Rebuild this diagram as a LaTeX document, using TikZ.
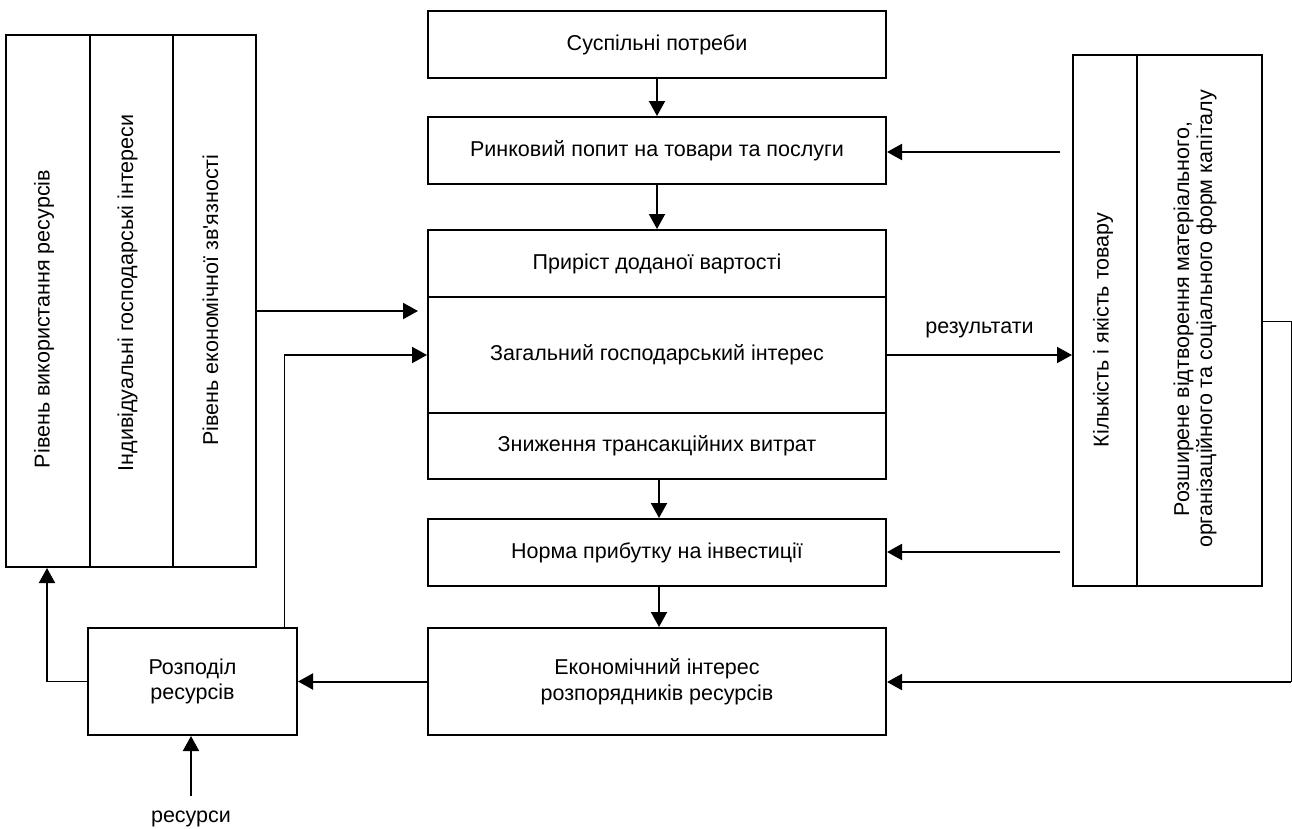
\documentclass[tikz,border=0pt]{standalone}
\usepackage{fontspec}
\setmainfont{Liberation Sans}[Ligatures=TeXOff]
\usetikzlibrary{arrows.meta}
\newcommand\figfs{\fontsize{21.5}{25.5}\selectfont}
\begin{document}
\begin{tikzpicture}[x=1pt,y=-1pt,
  box/.style={draw, line width=2pt, inner sep=0pt, align=center, font=\figfs},
  arr/.style={line width=2pt, -{Triangle[length=15pt,width=16pt]}},
  thinl/.style={line width=1pt},
  vtxt/.style={rotate=90, inner sep=0pt, font=\fontsize{21.5}{23}\selectfont, align=center},
  lbl/.style={inner sep=0pt, font=\figfs}]
\useasboundingbox[fill=white] (0,0) rectangle (1292,828);

% central column
\node[box, minimum width=458, minimum height=67] (sp) at (657,44.5) {Суспільні потреби};
\node[box, minimum width=458, minimum height=67] (rp) at (657,150.5) {Ринковий попит на товари та послуги};
\node[box, minimum width=458, minimum height=67] (p1) at (657,263.5) {Приріст доданої вартості};
\node[box, minimum width=458, minimum height=116] (p2) at (657,355) {Загальний господарський інтерес};
\node[box, minimum width=458, minimum height=66] (p3) at (657,446) {Зниження трансакційних витрат};
\node[box, minimum width=458, minimum height=67] (nm) at (657,552.5) {Норма прибутку на інвестиції};
\node[box, minimum width=458, minimum height=107] (ek) at (657,681.5) {Економічний інтерес\\розпорядників ресурсів};

% left
\node[box, minimum width=209, minimum height=107] (rz) at (192.5,681.5) {Розподіл\\ресурсів};
\node[box, minimum width=84, minimum height=532] (c1) at (48,301) {};
\node[box, minimum width=83, minimum height=532] (c2) at (131.5,301) {};
\node[box, minimum width=83, minimum height=532] (c3) at (214.5,301) {};
\node[vtxt] (t1) at (44,319) {Рівень використання ресурсів};
\node[vtxt] (t2) at (127.5,293) {Індивідуальні господарські інтереси};
\node[vtxt] (t3) at (210.5,300) {Рівень економічної зв'язності};

% right
\node[box, minimum width=64, minimum height=531] (k1) at (1105,320.5) {};
\node[box, minimum width=125, minimum height=531] (k2) at (1199.5,320.5) {};
\node[vtxt] (tk1) at (1103,330) {Кількість і якість товару};
\node[vtxt] (tk2) at (1195,319) {Розширене відтворення матеріального,\\організаційного та соціального форм капіталу};

% vertical flow
\draw[arr] (sp) -- (rp);
\draw[arr] (rp) -- (p1);
\draw[arr] ([xshift=2pt]p3.south) -- ([xshift=2pt]nm.north);
\draw[arr] ([xshift=2pt]nm.south) -- ([xshift=2pt]ek.north);

% inputs from the right
\coordinate (in1) at (1060,152);
\coordinate (in2) at (1060,552);
\draw[arr] (in1) -- (in1 -| rp.east);
\draw[arr] (in2) -- (in2 -| nm.east);

% results
\draw[arr] (p2.east) -- (p2.east -| k1.west)
  node[lbl, midway, anchor=base, yshift=22pt] (res1) {результати};

% feedback right
\coordinate (f1) at (1291,321);
\coordinate (f2) at (1291,682);
\draw[thinl] (f1 -| k2.east) -- (f1) -- (f2);
\draw[arr] (f2) -- (f2 -| ek.east);

% left inputs
\coordinate (a1e) at (418,311);
\draw[arr] (c3.east |- a1e) -- (a1e);
\coordinate (b1) at (284,355);
\draw[thinl] (rz.north -| b1) -- (b1);
\draw[arr] (b1) -- (b1 -| p2.west);

% bottom
\draw[arr] (ek.west) -- (rz.east);
\coordinate (l2) at (47,681.5);
\draw[thinl] (rz.west) -- (l2);
\draw[arr] (l2) -- (l2 |- c1.south);

\coordinate (r0) at (191,796);
\draw[arr] (r0) -- (r0 |- rz.south);
\node[lbl, anchor=base] (res2) at (191,822) {ресурси};
\end{tikzpicture}
\end{document}
